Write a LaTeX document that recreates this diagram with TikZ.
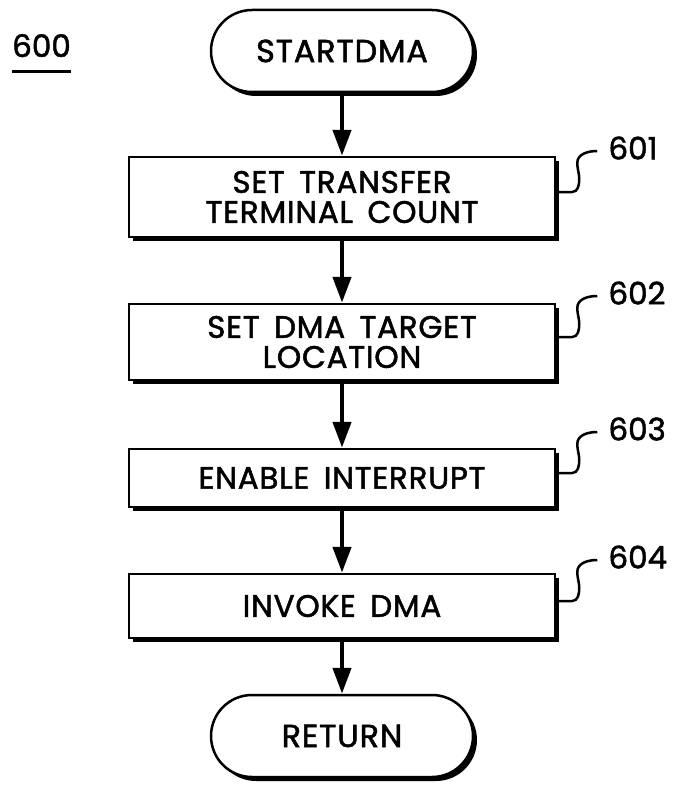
\documentclass[tikz,border=0pt]{standalone}
\usepackage{fontspec}
\setmainfont{Poppins}[FakeBold=1.6, LetterSpace=2.5, WordSpace=1.6]
\newfontfamily\numfont{Poppins}[FakeBold=1.6]
\usetikzlibrary{shapes.misc, arrows.meta, shadows}

\tikzset{
  x=1pt, y=1pt,
  outline/.style={line width=2.5pt, draw=black, fill=white},
  shade/.style={drop shadow={shadow xshift=4pt, shadow yshift=-4pt, fill=black, opacity=1}},
  stepbox/.style={outline, shade, rectangle, minimum width=426pt, inner sep=0pt,
    align=center, font=\fontsize{31}{30}\selectfont},
  terminal/.style={outline, shade, rounded rectangle, minimum width=262pt,
    minimum height=82pt, inner sep=0pt, font=\fontsize{32}{30}\selectfont},
  flow/.style={line width=4.5pt, -{Triangle[length=26pt,width=18pt]}},
  leader/.style={line width=2.5pt},
  refnum/.style={font=\numfont\fontsize{31}{31}\selectfont, inner sep=0pt, anchor=west}
}

\begin{document}
\begin{tikzpicture}
  \path[fill=white] (0,0) rectangle (672,-789);
  \useasboundingbox (0,0) rectangle (672,-789);

  % figure number
  \node[refnum, anchor=base west] (n600) at (12,-57) {600};
  \draw[line width=3pt] ([yshift=-15pt]n600.base west) -- ([yshift=-15pt]n600.base east);

  % flow steps
  \node[terminal] (s) at (342,-51) {STARTDMA};
  \node[stepbox, minimum height=80pt] (b1) at (342,-197) {SET TRANSFER\\TERMINAL COUNT};
  \node[stepbox, minimum height=76pt] (b2) at (342,-342) {SET DMA TARGET\\LOCATION};
  \node[stepbox, minimum height=58pt] (b3) at (342,-478) {ENABLE INTERRUPT};
  \node[stepbox, minimum height=64pt] (b4) at (342,-606) {INVOKE DMA};
  \node[terminal] (r) at (342,-736) {RETURN};

  \draw[flow] (s.south) -- (b1.north);
  \draw[flow] (b1.south) -- (b2.north);
  \draw[flow] (b2.south) -- (b3.north);
  \draw[flow] (b3.south) -- (b4.north);
  \draw[flow] (b4.south) -- (r.north);

  % reference leaders
  \foreach \b/\n in {b1/601, b2/602, b3/603, b4/604}{
    \draw[leader] ([yshift=5pt]\b.east) -- ++(16,0)
      to[out=0,in=-90] ++(7,13) to[out=90,in=-90] ++(-2,16)
      to[out=90,in=180] ++(20,12) coordinate (e\n);
    \node[refnum] (r\n) at ([xshift=11pt, yshift=3pt]e\n) {\n};
  }
\end{tikzpicture}
\end{document}
